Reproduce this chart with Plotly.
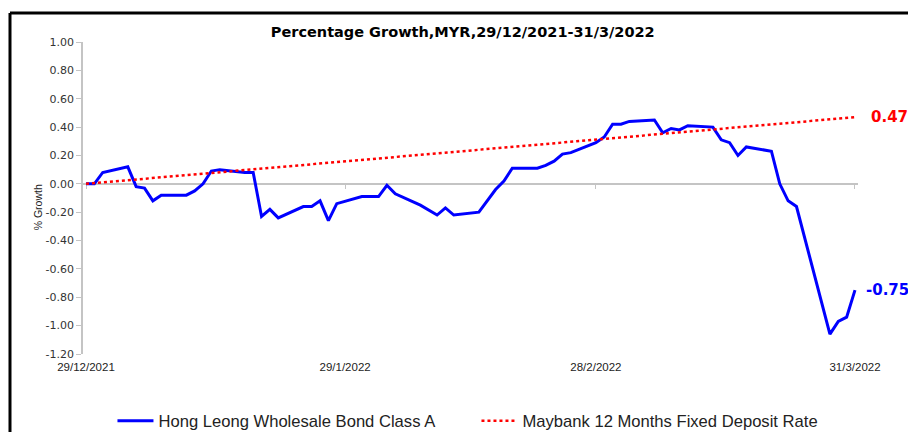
import plotly.graph_objs as go

# Hong Leong Wholesale Bond Class A, % growth (trading days)
hl_dates = ["2021-12-29", "2021-12-30", "2021-12-31", "2022-01-03", "2022-01-04", "2022-01-05",
            "2022-01-06", "2022-01-07", "2022-01-10", "2022-01-11", "2022-01-12", "2022-01-13",
            "2022-01-14", "2022-01-17", "2022-01-18", "2022-01-19", "2022-01-20", "2022-01-21",
            "2022-01-24", "2022-01-25", "2022-01-26", "2022-01-27", "2022-01-28", "2022-01-31",
            "2022-02-02", "2022-02-03", "2022-02-04", "2022-02-07", "2022-02-09", "2022-02-10",
            "2022-02-11", "2022-02-14", "2022-02-16", "2022-02-17", "2022-02-18", "2022-02-21",
            "2022-02-22", "2022-02-23", "2022-02-24", "2022-02-25", "2022-02-28", "2022-03-01",
            "2022-03-02", "2022-03-03", "2022-03-04", "2022-03-07", "2022-03-08", "2022-03-09",
            "2022-03-10", "2022-03-11", "2022-03-14", "2022-03-15", "2022-03-16", "2022-03-17",
            "2022-03-18", "2022-03-21", "2022-03-22", "2022-03-23", "2022-03-24", "2022-03-28",
            "2022-03-29", "2022-03-30", "2022-03-31"]
hl_values = [0.00, 0.00, 0.08, 0.12, -0.02, -0.03,
             -0.12, -0.08, -0.08, -0.05, 0.00, 0.09,
             0.10, 0.08, 0.08, -0.23, -0.18, -0.24,
             -0.16, -0.16, -0.12, -0.26, -0.14, -0.09,
             -0.09, -0.01, -0.07, -0.15, -0.22, -0.17,
             -0.22, -0.20, -0.04, 0.02, 0.11, 0.11,
             0.13, 0.16, 0.21, 0.22, 0.29, 0.33,
             0.42, 0.42, 0.44, 0.45, 0.36, 0.39,
             0.38, 0.41, 0.40, 0.31, 0.29, 0.20,
             0.26, 0.23, 0.00, -0.12, -0.16, -1.06,
             -0.97, -0.94, -0.75]

# Maybank 12 months FD rate
fd_dates = ["2021-12-29", "2022-03-31"]
fd_values = [0.00, 0.47]

x_tick_dates = ["2021-12-29", "2022-01-29", "2022-02-28", "2022-03-31"]
x_tick_labels = ["29/12/2021", "29/1/2022", "28/2/2022", "31/3/2022"]
y_tick_vals = [-1.2, -1.0, -0.8, -0.6, -0.4, -0.2, 0.0, 0.2, 0.4, 0.6, 0.8, 1.0]
y_tick_labels = ["-1.20", "-1.00", "-0.80", "-0.60", "-0.40", "-0.20",
                 "0.00", "0.20", "0.40", "0.60", "0.80", "1.00"]

BLUE = "#0000FF"
RED = "#FF0000"
GREY = "#C4C4C4"

fig = go.Figure()

fig.add_trace(go.Scatter(
    x=hl_dates, y=hl_values, mode="lines",
    name="Hong Leong Wholesale Bond Class A",
    line=dict(color=BLUE, width=3),
))
fig.add_trace(go.Scatter(
    x=fd_dates, y=fd_values, mode="lines", xaxis="x2",
    name="Maybank 12 Months Fixed Deposit Rate",
    line=dict(color=RED, width=2.5, dash="3px,3px"),
))

# end-of-series value labels
fig.add_annotation(x=fd_dates[-1], y=fd_values[-1], text=f"{fd_values[-1]:.2f}",
                   showarrow=False, xanchor="left", xshift=14,
                   font=dict(family="DejaVu Sans", size=15, color=RED, weight="bold"))
fig.add_annotation(x=hl_dates[-1], y=hl_values[-1], text=f"{hl_values[-1]:.2f}",
                   showarrow=False, xanchor="left", xshift=9,
                   font=dict(family="DejaVu Sans", size=15, color=BLUE, weight="bold"))

# y-axis title
fig.add_annotation(xref="paper", yref="paper", x=-0.068, y=0.471, text="% Growth",
                   textangle=-90, showarrow=False,
                   font=dict(family="Liberation Sans", size=10.5, color="#222222"))

# frame (left and top edges visible)
fig.add_shape(type="line", xref="paper", yref="paper", x0=-0.0942, x1=-0.0942, y0=1.093, y1=-0.3,
              line=dict(color="black", width=3))
fig.add_shape(type="line", xref="paper", yref="paper", x0=-0.0942, x1=1.1, y0=1.093, y1=1.093,
              line=dict(color="black", width=3))

x_range = ["2021-12-28 15:22", "2022-03-31 08:38"]

fig.update_layout(
    width=908, height=432,
    margin=dict(l=83, r=50, t=42, b=78, autoexpand=False),
    paper_bgcolor="white", plot_bgcolor="white",
    title=dict(text="<b>Percentage Growth,MYR,29/12/2021-31/3/2022</b>",
               x=0.49, xref="paper", xanchor="center", y=0.925, yanchor="middle",
               font=dict(family="DejaVu Sans", size=14.5, color="black")),
    xaxis=dict(type="date", range=x_range, tickvals=x_tick_dates, ticktext=x_tick_labels,
               showgrid=False, zeroline=False, showline=False, ticks="",
               ticklabelstandoff=4,
               tickfont=dict(family="Liberation Sans", size=11.5, color="#222222")),
    xaxis2=dict(type="date", matches="x", overlaying="x", anchor="free", position=1.2 / 2.2,
                tickvals=x_tick_dates, showticklabels=False, showgrid=False, zeroline=False,
                showline=True, linecolor=GREY, linewidth=1.5,
                ticks="outside", ticklen=4, tickcolor=GREY, tickwidth=1, layer="below traces"),
    yaxis=dict(range=[-1.2, 1.0], tickvals=y_tick_vals, ticktext=y_tick_labels,
               showgrid=False, zeroline=False, showline=True, linecolor=GREY, linewidth=1.5,
               ticks="outside", ticklen=5, tickcolor=GREY,
               tickfont=dict(family="DejaVu Sans", size=11, color="#333333")),
    showlegend=True,
    legend=dict(orientation="h", x=0.5077, xanchor="center", y=-0.215, yanchor="middle",
                font=dict(family="Liberation Sans", size=16.6, color="#222222"),
                itemwidth=36, entrywidth=313, bgcolor="rgba(0,0,0,0)"),
)

fig.write_html("out.html", config={"displayModeBar": False},
               post_script="document.body.style.margin='0';")
